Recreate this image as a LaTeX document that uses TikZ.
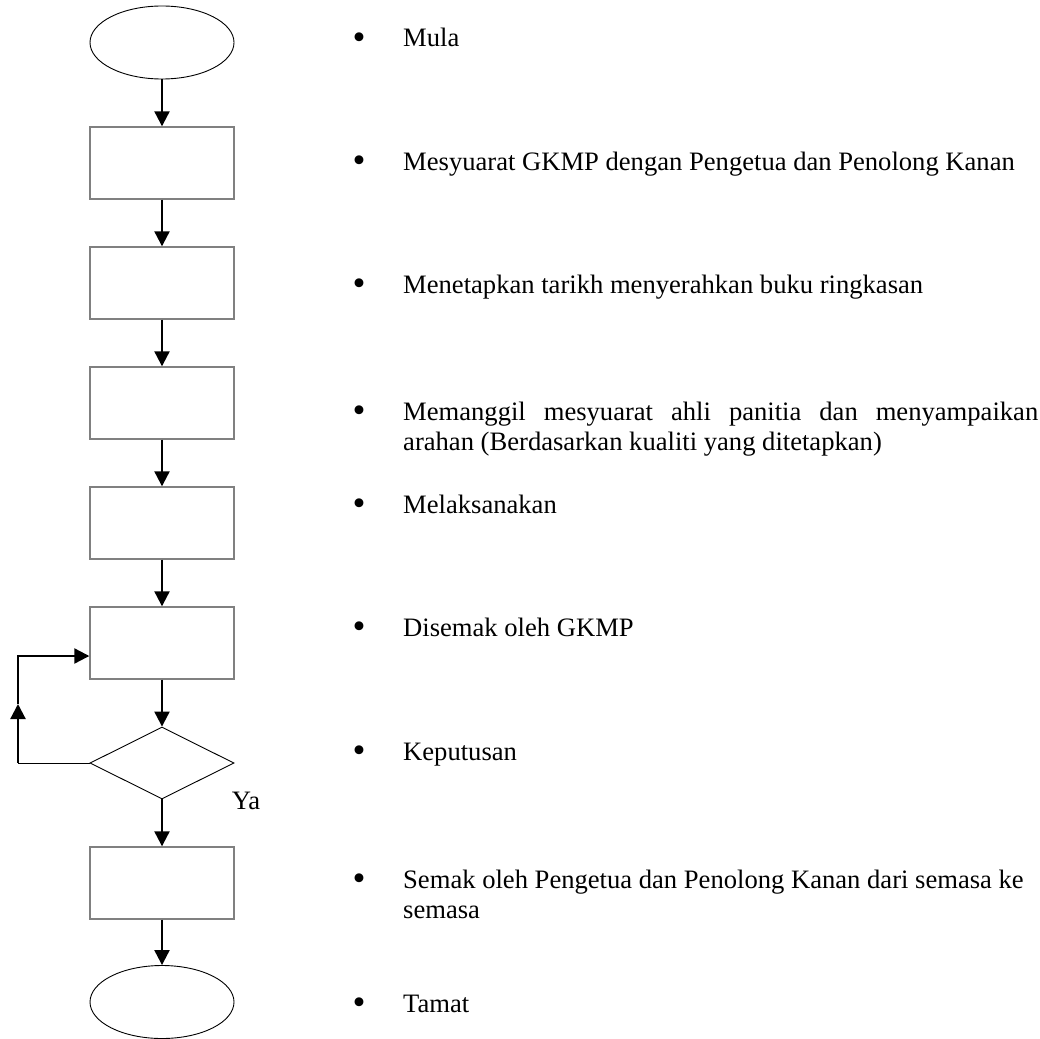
\documentclass[tikz,border=0pt]{standalone}
\usepackage{fontspec}
\setmainfont{Liberation Serif}
\usetikzlibrary{arrows.meta,shapes.geometric}
\begin{document}
\begin{tikzpicture}[x=1pt,y=-1pt,
  terminal/.style={ellipse, draw=black, line width=0.9pt, minimum width=144pt, minimum height=73pt, inner sep=0pt},
  process/.style={rectangle, draw=black!50, line width=1.4pt, minimum width=144pt, minimum height=72pt, inner sep=0pt},
  decision/.style={diamond, draw=black, line width=0.9pt, minimum width=144pt, minimum height=72pt, inner sep=0pt},
  flow/.style={line width=2.2pt, -{Triangle[width=15pt,length=15pt]}},
  dot/.style={anchor=center, inner sep=0pt, font=\fontsize{37}{37}\selectfont},
  item/.style={anchor=base west, inner sep=0pt}]
\useasboundingbox (0,0) rectangle (1040,1038);
\newcommand{\itemtext}[1]{\parbox[t]{640pt}{\fontsize{26.6}{30.75}\selectfont #1}}

% flowchart column
\node[terminal] (s0) at (162,42.5) {};
\node[process]  (p1) at (162,163) {};
\node[process]  (p2) at (162,283) {};
\node[process]  (p3) at (162,403) {};
\node[process]  (p4) at (162,523) {};
\node[process]  (p5) at (162,643) {};
\node[decision] (dec) at (162,763) {};
\node[process]  (p6) at (162,883) {};
\node[terminal] (s1) at (162,1002) {};

\draw[flow] (s0) -- (p1);
\draw[flow] (p1) -- (p2);
\draw[flow] (p2) -- (p3);
\draw[flow] (p3) -- (p4);
\draw[flow] (p4) -- (p5);
\draw[flow] (p5) -- (dec);
\draw[flow] (dec) -- (p6);
\draw[flow] (p6) -- (s1);

% loop back from the decision to the review step
\coordinate (lb) at (18,763);
\coordinate (lm) at (18,704);
\coordinate (lt) at (18,656);
\draw[line width=1pt] (dec.west) -- (lb);
\draw[flow] ([yshift=0.5pt]lb) -- (lm);
\draw[flow] (lm) -- (lt) -- (lt -| p5.west);

\node[item, font=\fontsize{26.6}{30}\selectfont] (ya) at (231.7,809.3) {Ya};

% step descriptions
\foreach \n/\y in {1/47,2/170,3/293,4/420,5/513,6/636,7/760,8/888,9/1012}
  \node[dot] (b\n) at (359,\y-5.5) {•};

\node[item] (t1) at (403,47)   {\itemtext{Mula}};
\node[item] (t2) at (403,170)  {\itemtext{Mesyuarat GKMP dengan Pengetua dan Penolong Kanan}};
\node[item] (t3) at (403,293)  {\itemtext{Menetapkan tarikh menyerahkan buku ringkasan}};
\node[item] (t4) at (403,420)  {\itemtext{\makebox[635pt][s]{Memanggil mesyuarat ahli panitia dan menyampaikan}\\arahan (Berdasarkan kualiti yang ditetapkan)}};
\node[item] (t5) at (403,513)  {\itemtext{Melaksanakan}};
\node[item] (t6) at (403,636)  {\itemtext{Disemak oleh GKMP}};
\node[item] (t7) at (403,760)  {\itemtext{Keputusan}};
\node[item] (t8) at (403,888)  {\itemtext{Semak oleh Pengetua dan Penolong Kanan dari semasa ke\\semasa}};
\node[item] (t9) at (403,1012) {\itemtext{Tamat}};
\end{tikzpicture}
\end{document}
